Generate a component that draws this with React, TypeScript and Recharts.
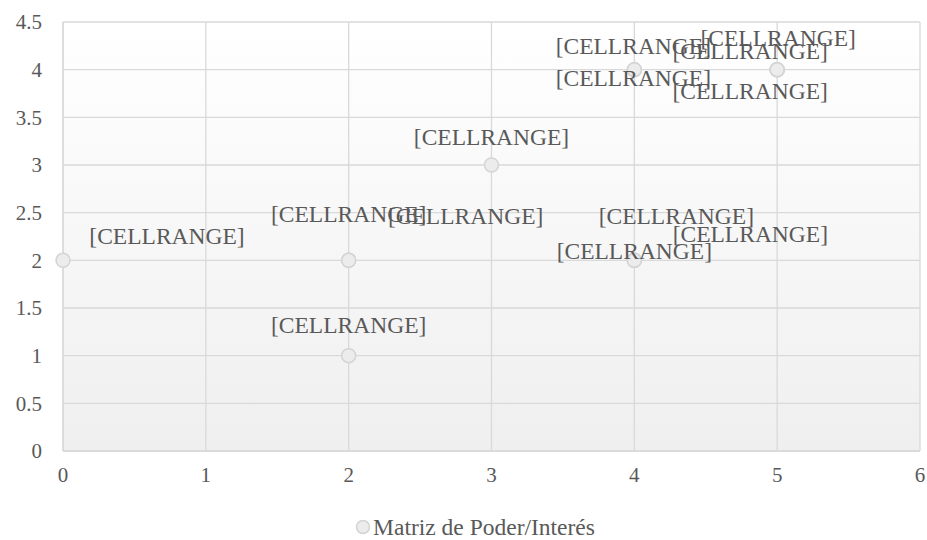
import React from 'react';
import { ScatterChart, Scatter, XAxis, YAxis, CartesianGrid, Legend } from 'recharts';

// Interés (x) / Poder (y), one entry per stakeholder
const interes = [0, 2, 2, 2, 3, 4, 4, 5, 5, 5, 4, 4, 4];
const poder = [2, 2, 2, 1, 3, 4, 4, 4, 4, 4, 2, 2, 2];
const etiquetas = [
  '[CELLRANGE]', '[CELLRANGE]', '[CELLRANGE]', '[CELLRANGE]', '[CELLRANGE]',
  '[CELLRANGE]', '[CELLRANGE]', '[CELLRANGE]', '[CELLRANGE]', '[CELLRANGE]',
  '[CELLRANGE]', '[CELLRANGE]', '[CELLRANGE]',
];
const xTicks = [0, 1, 2, 3, 4, 5, 6];
const yTicks = [0, 0.5, 1, 1.5, 2, 2.5, 3, 3.5, 4, 4.5];
const serieNombre = 'Matriz de Poder/Interés';

// hand-placed label offsets (px) like in the original sheet
const labelOffsets = [
  [104, -25], [0, -47], [117, -45], [0, -31], [0, -28],
  [-1, -24], [-1, 8], [1, -32], [-27, -19], [-27, 21],
  [42, -45], [0, -10], [116, -27],
];

const data = interes.map((x, i) => ({
  x,
  y: poder[i],
  label: etiquetas[i],
  dx: labelOffsets[i][0],
  dy: labelOffsets[i][1],
}));

const FONT = '"Liberation Serif", "Times New Roman", serif';
const TEXT = '#595959';

const Marker = (props: any) => {
  const { cx, cy } = props;
  if (cx == null || cy == null) return null;
  return <circle cx={cx} cy={cy} r={7} fill="#ececec" stroke="#d4d4d4" strokeWidth={1.5} />;
};

const PointLabel = (props: any) => {
  const { cx, cy, payload } = props;
  if (cx == null || cy == null) return null;
  return (
    <text
      x={cx + payload.dx}
      y={cy + payload.dy}
      dy="0.35em"
      textAnchor="middle"
      fontFamily={FONT}
      fontSize={23.5}
      fill={TEXT}
    >
      {payload.label}
    </text>
  );
};

const LegendBox = () => (
  <div
    style={{
      height: 49,
      paddingTop: 22,
      paddingLeft: 30,
      boxSizing: 'border-box',
      display: 'flex',
      justifyContent: 'center',
      alignItems: 'center',
      fontFamily: FONT,
      fontSize: 23.5,
      color: TEXT,
      lineHeight: '24px',
    }}
  >
    <svg width={16} height={16} style={{ marginRight: 2 }}>
      <circle cx={8} cy={8} r={6.5} fill="#ececec" stroke="#d4d4d4" strokeWidth={1.5} />
    </svg>
    <span>{serieNombre}</span>
  </div>
);

const App = () => {
  return (
    <div style={{ position: 'absolute', left: 0, top: 0, width: 927, height: 540, background: '#fff' }}>
      <ScatterChart width={927} height={540} margin={{ top: 22, right: 7, left: 0, bottom: 0 }}>
        <defs>
          <linearGradient id="plotBg" x1="0" y1="0" x2="0" y2="1">
            <stop offset="0%" stopColor="#ffffff" />
            <stop offset="100%" stopColor="#efefef" />
          </linearGradient>
        </defs>
        <CartesianGrid stroke="#d9d9d9" strokeWidth={1.3} fill="url(#plotBg)" fillOpacity={1} />
        <XAxis
          type="number"
          dataKey="x"
          domain={[0, 6]}
          ticks={xTicks}
          interval={0}
          height={40}
          axisLine={{ stroke: '#d9d9d9', strokeWidth: 1.3 }}
          tickLine={false}
          tickSize={0}
          tickMargin={16}
          tick={{ fill: TEXT, fontSize: 21, fontFamily: FONT }}
        />
        <YAxis
          type="number"
          dataKey="y"
          domain={[0, 4.5]}
          ticks={yTicks}
          interval={0}
          width={63}
          axisLine={{ stroke: '#d9d9d9', strokeWidth: 1.3 }}
          tickLine={false}
          tickSize={0}
          tickMargin={21}
          tick={{ fill: TEXT, fontSize: 21, fontFamily: FONT }}
        />
        <Legend verticalAlign="bottom" content={() => <LegendBox />} />
        <Scatter name={serieNombre} data={data} shape={Marker} isAnimationActive={false} />
        <Scatter name="labels" data={data} shape={PointLabel} legendType="none" isAnimationActive={false} />
      </ScatterChart>
    </div>
  );
};

export default App;
